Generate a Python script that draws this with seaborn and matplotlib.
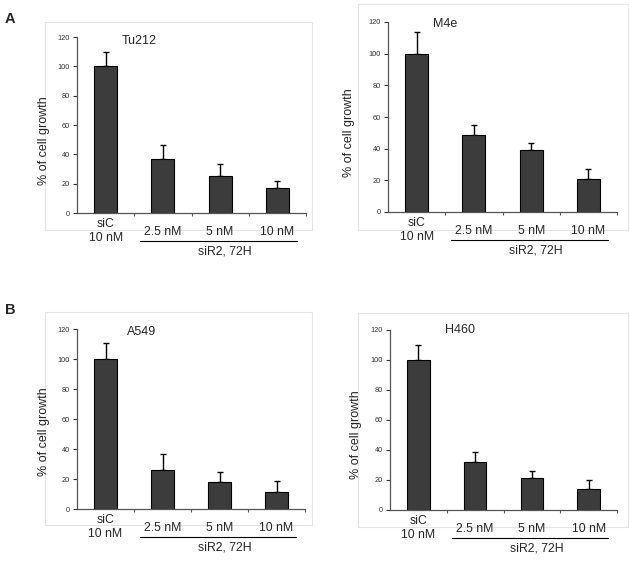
import numpy as np
import pandas as pd
import seaborn as sns
import matplotlib.pyplot as plt
from matplotlib.patches import Rectangle
from matplotlib.transforms import offset_copy

conditions = ["siC", "2.5nM", "5nM", "10nM"]
cell_lines = ["Tu212", "M4e", "A549", "H460"]
tu212_mean = [100, 36.5, 25.4, 17.0]
tu212_err = [10, 10, 7.8, 4.6]
m4e_mean = [100, 48.4, 39.3, 21.1]
m4e_err = [14, 6.3, 4.0, 6.2]
a549_mean = [100, 26.3, 18.3, 11.2]
a549_err = [10.4, 10.1, 6.5, 7.8]
h460_mean = [100, 32, 21.1, 13.8]
h460_err = [9.8, 6.7, 5.1, 6.2]
means = [tu212_mean, m4e_mean, a549_mean, h460_mean]
errs = [tu212_err, m4e_err, a549_err, h460_err]
tick_labels = ["siC\n10 nM", "2.5 nM", "5 nM", "10 nM"]
group_label = "siR2, 72H"

sns.set_style("ticks")
plt.rcParams['font.family'] = ['Liberation Sans', 'DejaVu Sans']

W, H = 629, 561
fig = plt.figure(figsize=(W / 100, H / 100), dpi=100)

def px_rect(x0, y0, x1, y1):
    # pixel box (top-left origin) -> figure fraction [l, b, w, h]
    return [x0 / W, 1 - y1 / H, (x1 - x0) / W, (y1 - y0) / H]

# axes boxes in pixels, frames, title pos, ylabel pos
panels = [
    dict(ax=(77, 37, 306, 213), frame=(45, 22, 312, 230), title=(0.197, 0.98), ylab=(-0.118, 0.41)),
    dict(ax=(388, 22, 617, 212), frame=(358, 4, 628, 230), title=(0.197, 0.99), ylab=(-0.144, 0.42)),
    dict(ax=(77, 329, 305, 509), frame=(45, 312, 312, 525), title=(0.218, 0.983), ylab=(-0.118, 0.43)),
    dict(ax=(390, 330, 617, 510), frame=(358, 313, 628, 527), title=(0.242, 1.0), ylab=(-0.123, 0.42)),
]

for i, p in enumerate(panels):
    fx0, fy0, fx1, fy1 = p["frame"]
    l, b, w, h = px_rect(fx0, fy0, fx1, fy1)
    fig.patches.append(Rectangle((l, b), w, h, transform=fig.transFigure,
                                 fill=False, edgecolor="#e4e4e4", lw=0.8, zorder=-1))

    ax = fig.add_axes(px_rect(*p["ax"]))
    ax.set_facecolor("none")
    df = pd.DataFrame({"cond": conditions, "growth": means[i]})
    sns.barplot(data=df, x="cond", y="growth", order=conditions, color="#3c3c3c",
                edgecolor="black", linewidth=0.8, width=0.4, saturation=1,
                errorbar=None, ax=ax)
    xs = [bar.get_x() + bar.get_width() / 2 for bar in ax.patches]
    ax.errorbar(xs, means[i], yerr=[np.zeros(4), errs[i]], fmt="none",
                ecolor="black", elinewidth=1, capsize=2, capthick=1, zorder=0.5)

    ax.set_xlim(-0.5, 3.5)
    ax.set_ylim(0, 120)
    ax.set_yticks(range(0, 121, 20))
    ax.set_xticks([0.5, 1.5, 2.5, 3.5])
    ax.set_xticklabels([])
    ax.tick_params(axis="y", labelsize=5.3, length=3, width=0.8, pad=2, colors="#333333")
    ax.tick_params(axis="x", length=2, width=0.8, colors="#555555")
    sns.despine(ax=ax)
    for s in ["left", "bottom"]:
        ax.spines[s].set_color("#555555")
        ax.spines[s].set_linewidth(0.9)

    ax.set_xlabel("")
    ax.set_ylabel("% of cell growth", fontsize=9)
    ax.yaxis.set_label_coords(*p["ylab"])
    ax.text(p["title"][0], p["title"][1], cell_lines[i], transform=ax.transAxes,
            fontsize=9, ha="left", va="center")

    xt = ax.get_xaxis_transform()
    ax.annotate(tick_labels[0], xy=(0, 0), xycoords=xt, xytext=(0, -13),
                textcoords="offset points", ha="center", va="center",
                fontsize=8.8, linespacing=1.3, annotation_clip=False)
    for k in range(1, 4):
        ax.annotate(tick_labels[k], xy=(k, 0), xycoords=xt, xytext=(0, -13.7),
                    textcoords="offset points", ha="center", va="center",
                    fontsize=8.8, annotation_clip=False)
    line_tr = offset_copy(xt, fig=fig, y=-20.3, units="points")
    ax.plot([0.6, 3.35], [0, 0], transform=line_tr, color="black", lw=0.8, clip_on=False)
    ax.annotate(group_label, xy=(2.09, 0), xycoords=xt, xytext=(0, -28),
                textcoords="offset points", ha="center", va="center",
                fontsize=8.8, annotation_clip=False)

fig.text(5 / W, 1 - 19 / H, "A", fontsize=10.5, fontweight="bold", ha="left", va="center")
fig.text(5 / W, 1 - 310 / H, "B", fontsize=10.5, fontweight="bold", ha="left", va="center")

plt.savefig("out.png", dpi=100)
